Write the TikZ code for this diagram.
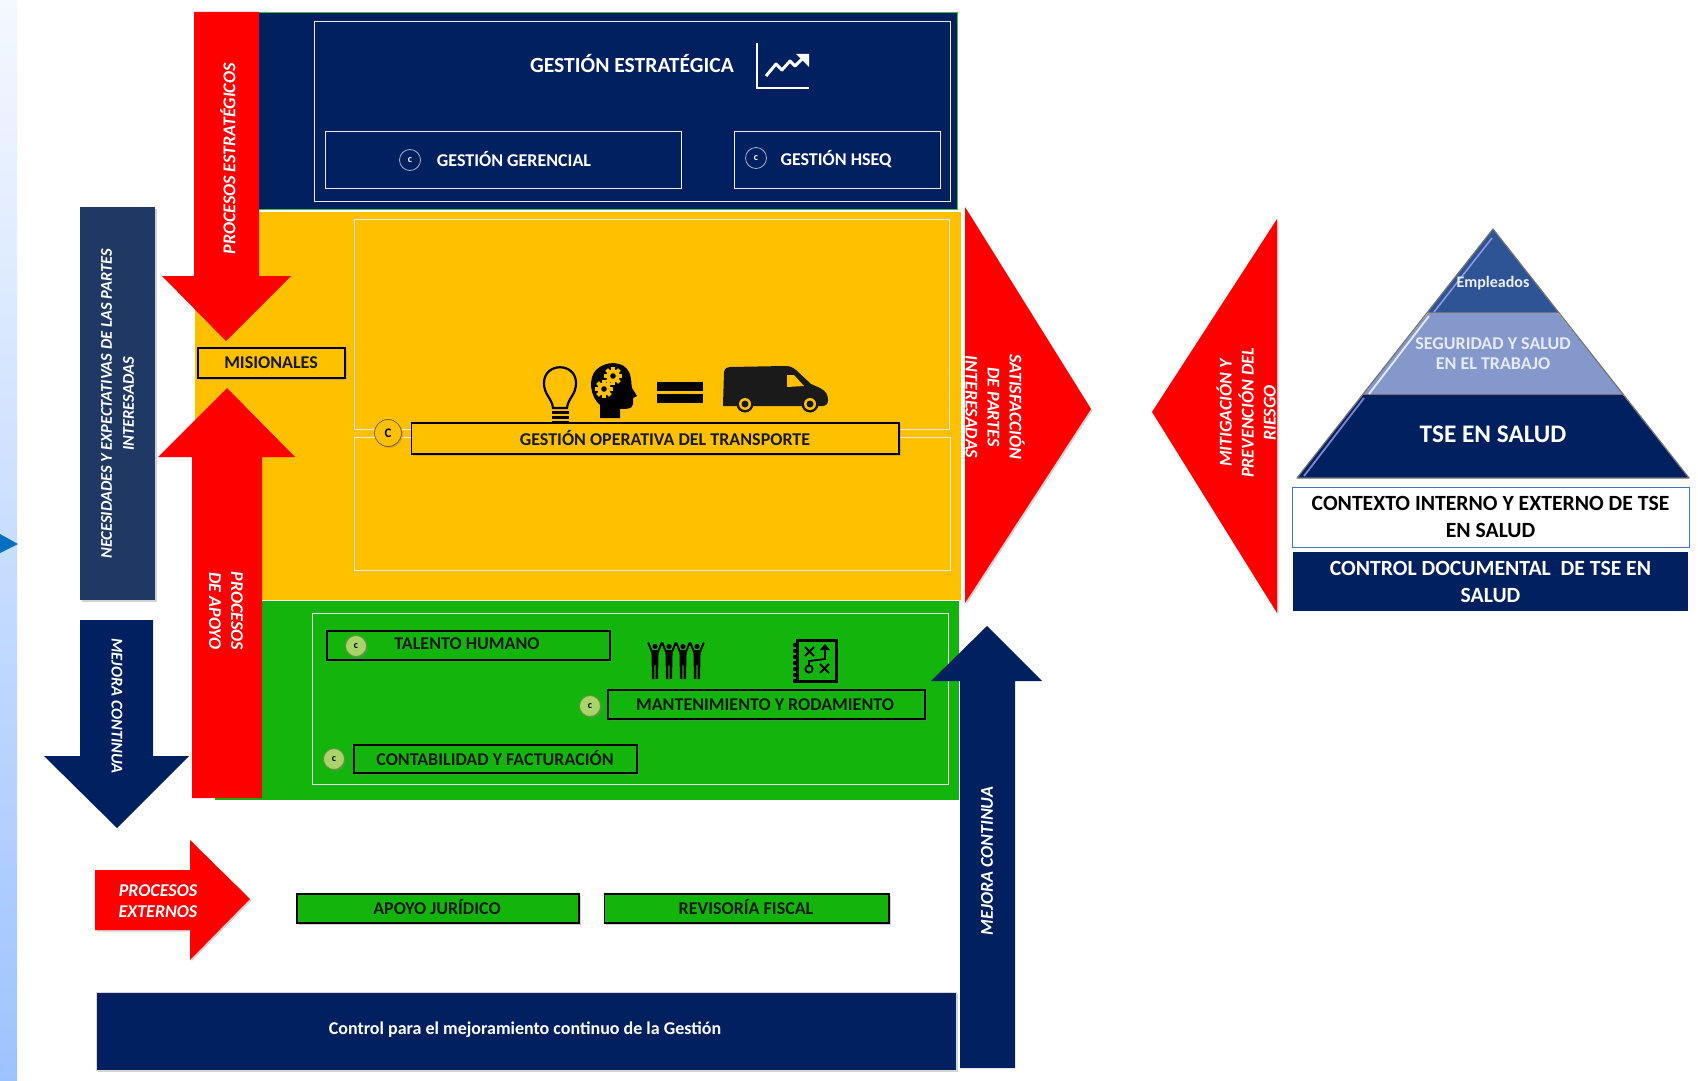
\documentclass[tikz,border=0pt]{standalone}
\usepackage{fontspec}
\setmainfont{Carlito}
\usetikzlibrary{shadows}
\definecolor{navy}{HTML}{002060}
\definecolor{slate}{HTML}{203864}
\definecolor{gold}{HTML}{FFC000}
\definecolor{leaf}{HTML}{13B50D}
\definecolor{pale}{HTML}{A9D46A}
\definecolor{midblue}{HTML}{2F5496}
\definecolor{softblue}{HTML}{8598CC}
\definecolor{edgeblue}{HTML}{4472C4}
\definecolor{ink}{HTML}{1A1A1A}
\definecolor{striptop}{HTML}{F4F8FF}
\definecolor{stripend}{HTML}{9DC3FF}
\definecolor{tipblue}{HTML}{0070C0}
\tikzset{
	shade1/.style={drop shadow={opacity=.35,shadow xshift=1.5pt,shadow yshift=-1.5pt}},
	frame/.style={draw=white!92!black,line width=1pt},
	tagbox/.style={draw=black,line width=1.2pt,shade1},
	ttl/.style={font=\fontsize{18}{21}\selectfont\bfseries,inner sep=0pt,align=center},
	ttlw/.style={ttl,text=white},
	ttlk/.style={ttl,text=ink},
	side/.style={font=\fontsize{18}{22}\selectfont\bfseries\itshape,text=white,inner sep=0pt,align=center},
	mark1/.style={circle,minimum size=21pt,inner sep=0pt,font=\fontsize{10}{10}\selectfont\bfseries,line width=.8pt},
	marknavy/.style={mark1,draw=white!65!navy,fill=navy,text=white},
	markleaf/.style={mark1,draw=black!35!pale,fill=pale,text=black,shade1},
	big/.style={font=\fontsize{21.7}{27}\selectfont\bfseries,inner sep=0pt,align=center}
}
\newcommand{\gearicon}[2]{%
	\foreach \a in {0,45,...,315}
		\fill[gold,rotate around={\a:(#1,#2)}] ({#1-1.8},{#2-9}) rectangle ({#1+1.8},{#2+9});
	\fill[gold] (#1,#2) circle (6.5);
	\fill[black] (#1,#2) circle (2.8);
}
\newcommand{\personicon}[1]{%
	\fill[black] (#1,646.5) circle (2.6);
	\fill[black] ({#1-3.6},650) -- ({#1+3.6},650) -- ({#1+3},679) -- ({#1+.6},679) -- ({#1+.6},665) -- ({#1-.6},665) -- ({#1-.6},679) -- ({#1-3},679) -- cycle;
	\draw[black,line width=1.9pt] ({#1-3},652) -- ({#1-6.8},642.5);
	\draw[black,line width=1.9pt] ({#1+3},652) -- ({#1+6.8},642.5);
}
\begin{document}
\begin{tikzpicture}[x=1pt,y=-1pt]
	\useasboundingbox (0,0) rectangle (1698,1081);
	\fill[white] (0,0) rectangle (1698,1081);

	% left strip
	\shade[top color=striptop,bottom color=stripend] (0,0) rectangle (17,1081);
	\fill[tipblue] (0,534) -- (18,544) -- (0,553) -- cycle;

	% process bands
	\fill[gold] (195,212) rectangle (961,600);
	\draw[white,line width=.8pt] (195,211) -- (961,211) -- (961,600);
	\fill[leaf] (215,601) rectangle (959,800);
	\draw[white] (215,600.5) -- (959,600.5);
	\fill[navy] (259,12) rectangle (957,209);
	\draw[green!45!gray,line width=.8pt] (259,12) -- (957,12) -- (957,209) -- (259,209);

	% strategic
	\draw[frame] (314.5,22) rectangle (950,201);
	\draw[frame] (325.5,131) rectangle (681,188);
	\draw[frame] (734.5,131) rectangle (940,188);
	\node[ttlw,font=\fontsize{21.6}{24}\selectfont\bfseries] (estrategica) at (632,64) {GESTIÓN ESTRATÉGICA};
	\draw[white,line width=2.6pt] (757,43) -- (757,88) -- (809,88);
	\draw[white,line width=3pt,line join=round] (766,76) -- (776,64) -- (782,70) -- (790,61) -- (795,66) -- (803,58);
	\fill[white] (796,54) -- (809,54) -- (809,67) -- cycle;
	\node[marknavy] (cgerencial) at (410,160) {c};
	\node[marknavy] (chseq) at (756,158) {c};
	\node[ttlw] (gerencial) at (514,159) {GESTIÓN GERENCIAL};
	\node[ttlw] (hseq) at (836,159) {GESTIÓN HSEQ};

	% operative
	\draw[frame] (354,219) rectangle (949,429);
	\draw[frame] (354,437) rectangle (950,570);
	\draw[tagbox,fill=gold] (411.5,423) rectangle (899,454);
	\node[ttlk] (operativa) at (665,438) {GESTIÓN OPERATIVA DEL TRANSPORTE};
	\node[mark1,draw=black!50!gold,fill=gold,text=black,minimum size=27pt,font=\fontsize{13}{13}\selectfont\bfseries,shade1] (coperativa) at (388,433) {C};

	% bulb
	\draw[black,line width=2.2pt] (553,408) .. controls (552,398) and (544,395) .. (544,383) .. controls (544,362) and (576,362) .. (576,383) .. controls (576,395) and (568,398) .. (567,408) -- cycle;
	\fill[black] (552,411) rectangle (569,414);
	\fill[black] (552,416) rectangle (569,419);
	\fill[black] (552,421) rectangle (569,424);
	% head
	\fill[black] (600,418) -- (600,405) .. controls (590,397) and (588,378) .. (596,370) .. controls (606,360) and (624,361) .. (629,372) .. controls (632,379) and (631,384) .. (632,388) -- (637,396) -- (633,398) .. controls (634,408) and (632,409) .. (620,409) -- (620,418) -- cycle;
	\gearicon{613}{376}
	\gearicon{604}{389}
	% equals
	\fill[black] (657,382) rectangle (703,391);
	\fill[black] (657,394) rectangle (703,403);
	% van
	\fill[ink] (723,405) -- (724,372) .. controls (725,368) and (727,367) .. (730,367) -- (785,366) .. controls (790,366) and (792,367) .. (796,370) -- (811,384) -- (820,388) .. controls (826,391) and (828,395) .. (828,400) .. controls (828,404) and (826,406) .. (822,406) -- (723,406) -- cycle;
	\fill[gold] (787,375) -- (794,375) -- (804,386) -- (787,387) -- cycle;
	\foreach \wx in {745,810}{
		\fill[ink] (\wx,404) circle (8.5);
		\fill[gold] (\wx,404) circle (6);
		\fill[ink] (\wx,404) circle (3.5);
	}

	% support
	\draw[frame] (312,613) rectangle (948,784);
	\draw[tagbox,fill=leaf] (327,631) rectangle (610,660);
	\draw[tagbox,fill=leaf] (608,690) rectangle (925,719);
	\draw[tagbox,fill=leaf] (354,745) rectangle (637,773);
	\node[ttlk] (talento) at (467,644) {TALENTO HUMANO};
	\node[ttlk] (mantenimiento) at (765,705) {MANTENIMIENTO Y RODAMIENTO};
	\node[ttlk] (contabilidad) at (495,758) {CONTABILIDAD Y FACTURACIÓN};
	\node[markleaf] (ctalento) at (356,646) {c};
	\node[markleaf] (cmantenimiento) at (590,706) {c};
	\node[markleaf] (ccontabilidad) at (334,759) {c};
	\foreach \px in {655,669,683,697}{
		\personicon{\px}
	}
	% plan icon
	\draw[black,line width=3pt] (797,640) rectangle (836,681);
	\foreach \py in {645,651,...,681}{
		\fill[black] (795,\py) circle (2.2);
	}
	\draw[black,line width=2pt] (805,647) -- (814,656) (814,647) -- (805,656);
	\draw[black,line width=2pt] (820,664) -- (829,673) (829,664) -- (820,673);
	\draw[black,line width=1.8pt] (809,669) circle (3.6);
	\draw[black,line width=1.8pt] (809,665) -- (809,661) -- (825,659) -- (825,648);
	\fill[black] (820,650) -- (825,644) -- (830,650) -- cycle;

	% external
	\draw[tagbox,fill=leaf] (297,894) rectangle (579,923);
	\draw[tagbox,fill=leaf] (604.5,894) rectangle (889,923);
	\node[ttlk] (juridico) at (437,906.5) {APOYO JURÍDICO};
	\node[ttlk] (fiscal) at (746,906.5) {REVISORÍA FISCAL};

	% red arrows
	\fill[red,shade1] (95,870) -- (190,870) -- (190,840) -- (250,899) -- (190,960) -- (190,930) -- (95,930) -- cycle;
	\node[side,font=\fontsize{18}{21.5}\selectfont\bfseries\itshape] (externos) at (158,901) {PROCESOS\\EXTERNOS};
	\fill[red] (192,798) -- (192,457) -- (158,457) -- (227,388) -- (295,457) -- (262,457) -- (262,798) -- cycle;
	\node[side,rotate=-90] (apoyo) at (226,611) {PROCESOS\\DE APOYO};
	\fill[red] (194,12) -- (259,12) -- (259,276) -- (291,276) -- (226,341) -- (162,276) -- (194,276) -- cycle;
	\node[side,rotate=90] (estrategicos) at (228,159) {PROCESOS ESTRATÉGICOS};
	\draw[tagbox,fill=gold] (198,348) rectangle (345,378);
	\node[ttlk] (misionales) at (271,363) {MISIONALES};

	% left column
	\fill[slate,shade1] (80,207) rectangle (155,600);
	\node[side,rotate=90,font=\fontsize{16.4}{22}\selectfont\bfseries\itshape] (necesidades) at (117.5,404) {NECESIDADES Y EXPECTATIVAS DE LAS PARTES\\INTERESADAS};
	\fill[navy] (80,620) -- (153,620) -- (153,756) -- (189,756) -- (117,828) -- (44,756) -- (80,756) -- cycle;
	\node[side,rotate=-90,font=\fontsize{16.4}{22}\selectfont\bfseries\itshape] (mejorabaja) at (117,706) {MEJORA CONTINUA};

	% bottom
	\node[draw=black!15,line width=1pt,fill=navy,minimum width=860pt,minimum height=78pt,inner sep=0pt,shade1] (controlbar) at (526,1031) {};
	\node[ttlw] (mejoramiento) at (525,1030) {Control para el mejoramiento continuo de la Gestión};
	\fill[navy] (960,1068) -- (960,681) -- (931,681) -- (987,626) -- (1042,681) -- (1015,681) -- (1015,1068) -- cycle;
	\node[side,rotate=90] (mejorasube) at (987,861) {MEJORA CONTINUA};

	% triangles
	\fill[red,shade1] (965,207) -- (1091,409) -- (965,603) -- cycle;
	\node[side,rotate=-90] (satisfaccion) at (995,407) {SATISFACCIÓN\\DE PARTES\\INTERESADAS};
	\fill[red,shade1] (1277,219) -- (1152,412) -- (1277,613) -- cycle;
	\node[side,rotate=90] (mitigacion) at (1246,413) {MITIGACIÓN Y\\PREVENCIÓN DEL\\RIESGO};

	% pyramid
	\fill[midblue] (1493,229) -- (1558,312) -- (1428,312) -- cycle;
	\fill[softblue] (1428,313) -- (1558,313) -- (1623,394) -- (1363,394) -- cycle;
	\fill[navy] (1363,395) -- (1623,395) -- (1689,478) -- (1297,478) -- cycle;
	\draw[black!55,line width=1pt] (1428,312) -- (1558,312) (1363,394) -- (1623,394);
	\draw[black!55,line width=1.2pt,line join=round] (1297,478) -- (1493,229) -- (1689,478) -- cycle;
	\draw[blue!30!white,opacity=.75,line width=1.5pt] (1434,312) -- (1492,238);
	\draw[white,opacity=.8,line width=1.8pt] (1369,394) -- (1429,316);
	\draw[blue!30!white,opacity=.7,line width=1.8pt] (1304,476) -- (1364,398);
	\node[font=\fontsize{16}{18}\selectfont\bfseries,text=white!85!softblue,inner sep=0pt] (empleados) at (1493,283) {Empleados};
	\node[ttl,text=white!80!softblue,font=\fontsize{18}{20}\selectfont\bfseries] (seguridad) at (1493,354) {SEGURIDAD Y SALUD\\EN EL TRABAJO};
	\node[big,text=white,font=\fontsize{25.3}{28}\selectfont\bfseries] (tse) at (1493,434) {TSE EN SALUD};

	% context boxes
	\node[draw=edgeblue,line width=1pt,fill=white,minimum width=397pt,minimum height=60pt,inner sep=0pt,big,text=black] (contexto) at (1490.5,517) {CONTEXTO INTERNO Y EXTERNO DE TSE\\EN SALUD};
	\node[fill=navy,minimum width=395pt,minimum height=59pt,inner sep=0pt,big,text=white] (documental) at (1490.5,581.5) {CONTROL DOCUMENTAL\ \ DE TSE EN\\SALUD};
\end{tikzpicture}
\end{document}
